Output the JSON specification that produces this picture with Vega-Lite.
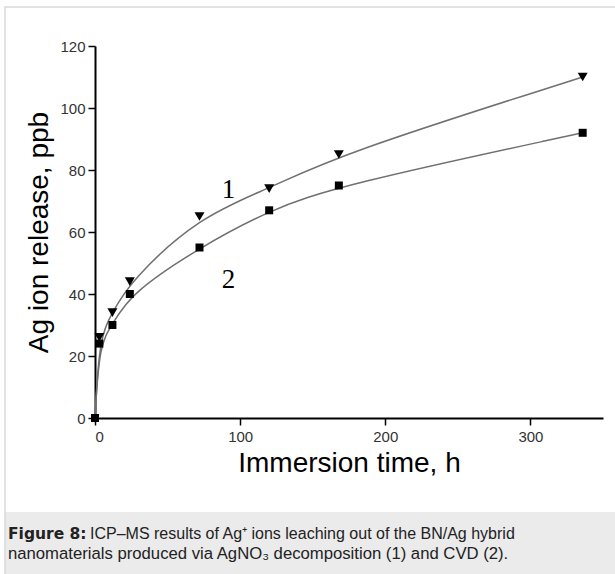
{
  "$schema": "https://vega.github.io/schema/vega-lite/v6.json",
  "width": 508,
  "height": 372,
  "autosize": {"type": "none"},
  "padding": {"left": 95, "top": 46, "right": 12, "bottom": 156},
  "background": "white",
  "config": {
    "view": {"stroke": null},
    "font": "Liberation Sans",
    "axis": {
      "grid": false,
      "domainColor": "#000",
      "domainWidth": 2,
      "tickColor": "#000",
      "tickWidth": 1.5,
      "tickSize": 7,
      "labelFont": "Liberation Sans",
      "labelFontSize": 15,
      "labelColor": "#333",
      "titleFont": "Liberation Sans",
      "titleFontSize": 28,
      "titleFontWeight": "normal",
      "titleColor": "#000"
    }
  },
  "datasets": {
    "points": [
      {"time": 0, "release": 0, "sample": "1"},
      {"time": 3, "release": 26, "sample": "1"},
      {"time": 12, "release": 34, "sample": "1"},
      {"time": 24, "release": 44, "sample": "1"},
      {"time": 72, "release": 65, "sample": "1"},
      {"time": 120, "release": 74, "sample": "1"},
      {"time": 168, "release": 85, "sample": "1"},
      {"time": 336, "release": 110, "sample": "1"},
      {"time": 0, "release": 0, "sample": "2"},
      {"time": 3, "release": 24, "sample": "2"},
      {"time": 12, "release": 30, "sample": "2"},
      {"time": 24, "release": 40, "sample": "2"},
      {"time": 72, "release": 55, "sample": "2"},
      {"time": 120, "release": 67, "sample": "2"},
      {"time": 168, "release": 75, "sample": "2"},
      {"time": 336, "release": 92, "sample": "2"}
    ],
    "labels": [
      {"time": 92, "release": 73.5, "label": "1"},
      {"time": 92, "release": 44.5, "label": "2"}
    ]
  },
  "layer": [
    {
      "data": {"values": [{}]},
      "mark": {"type": "rect", "fill": "#ebebeb", "clip": false},
      "encoding": {"x": {"value": -90}, "x2": {"value": 530}, "y": {"value": 466}, "y2": {"value": 540}}
    },
    {
      "data": {"values": [{}]},
      "mark": {"type": "rect", "fill": null, "stroke": "#d9d9d9", "strokeWidth": 1.5, "clip": false},
      "encoding": {"x": {"value": -90}, "x2": {"value": 530}, "y": {"value": -39}, "y2": {"value": 540}}
    },
    {
      "data": {"name": "points"},
      "mark": {"type": "line", "interpolate": "basis", "color": "#707070", "strokeWidth": 1.5},
      "encoding": {
        "x": {"field": "time", "type": "quantitative", "scale": {"domain": [0, 350], "nice": false}, "axis": {"values": [0, 100, 200, 300], "title": "Immersion time, h", "labelPadding": 4, "titlePadding": 5}},
        "y": {"field": "release", "type": "quantitative", "scale": {"domain": [0, 120], "nice": false}, "axis": {"values": [0, 20, 40, 60, 80, 100, 120], "title": "Ag ion release, ppb", "labelPadding": 3, "titlePadding": 6}},
        "detail": {"field": "sample", "type": "nominal"}
      }
    },
    {
      "data": {"name": "points"},
      "transform": [{"filter": "datum.sample == '1' && datum.time > 0"}],
      "mark": {"type": "point", "shape": "triangle-down", "filled": true, "color": "#000", "size": 100, "opacity": 1},
      "encoding": {
        "x": {"field": "time", "type": "quantitative"},
        "y": {"field": "release", "type": "quantitative"}
      }
    },
    {
      "data": {"name": "points"},
      "transform": [{"filter": "datum.sample == '2'"}],
      "mark": {"type": "point", "shape": "square", "filled": true, "color": "#000", "size": 64, "opacity": 1},
      "encoding": {
        "x": {"field": "time", "type": "quantitative"},
        "y": {"field": "release", "type": "quantitative"}
      }
    },
    {
      "data": {"name": "labels"},
      "mark": {"type": "text", "font": "Liberation Serif", "fontSize": 27, "color": "#000", "baseline": "middle", "align": "center"},
      "encoding": {
        "x": {"field": "time", "type": "quantitative"},
        "y": {"field": "release", "type": "quantitative"},
        "text": {"field": "label"}
      }
    },
    {
      "data": {"values": [{}]},
      "mark": {"type": "text", "text": "Figure 8:", "font": "DejaVu Sans", "fontWeight": "bold", "fontSize": 15.5, "color": "#222", "align": "left", "baseline": "alphabetic"},
      "encoding": {"x": {"value": -87}, "y": {"value": 493}}
    },
    {
      "data": {"values": [{}]},
      "mark": {"type": "text", "text": "ICP–MS results of Ag⁺ ions leaching out of the BN/Ag hybrid", "fontSize": 16, "color": "#222", "align": "left", "baseline": "alphabetic"},
      "encoding": {"x": {"value": -5}, "y": {"value": 493}}
    },
    {
      "data": {"values": [{}]},
      "mark": {"type": "text", "text": "nanomaterials produced via AgNO₃ decomposition (1) and CVD (2).", "fontSize": 16.7, "color": "#222", "align": "left", "baseline": "alphabetic"},
      "encoding": {"x": {"value": -87}, "y": {"value": 513}}
    }
  ]
}
